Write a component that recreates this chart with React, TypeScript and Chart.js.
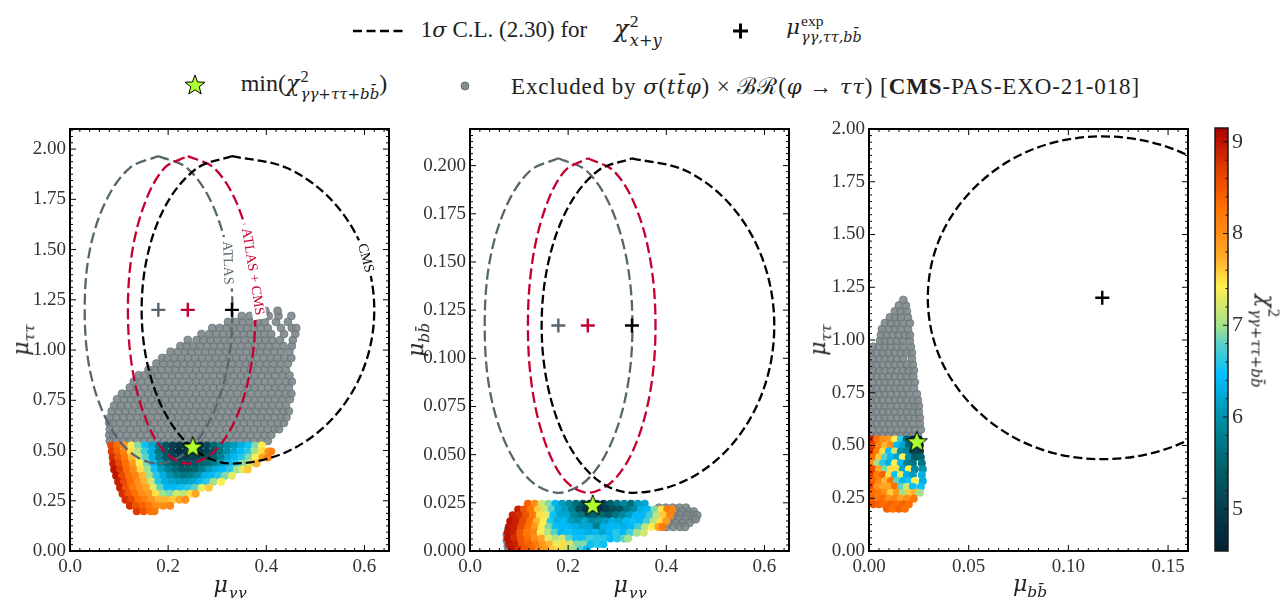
import React, { useEffect, useRef } from "react";
import { Chart, registerables } from "chart.js";
Chart.register(...registerables);

const FONT = '"Liberation Serif", serif';
const MATH = '"DejaVu Serif", serif';
const BLACK = "#000000";
const RED = "#c4002f";
const SLATE = "#55666c";
const LIME = "#adff2f";

// chi^2 colour scale
const chiStops = [4.54, 5.0, 5.5, 6.0, 6.45, 6.8, 7.0, 7.42, 7.75, 8.3, 8.7, 9.15];
const chiColors: number[][] = [
  [4, 30, 48], [8, 62, 78], [0, 100, 108], [0, 145, 170], [0, 190, 255], [90, 210, 200],
  [165, 225, 140], [255, 240, 80], [255, 170, 40], [255, 110, 0], [225, 60, 0], [170, 0, 0],
];
const cbTicks = [5, 6, 7, 8, 9];
const cbMinor = [4.6, 4.8, 5.2, 5.4, 5.6, 5.8, 6.2, 6.4, 6.6, 6.8, 7.2, 7.4, 7.6, 7.8, 8.2, 8.4, 8.6, 8.8, 9.0];

// best-fit crosses
const bestATLAS = [0.18, 1.2, 0.117];
const bestCOMB = [0.24, 1.2, 0.117];
const bestCMS = [0.33, 1.2, 0.117];
const bestP3 = [0.117, 1.2];
const starP1 = [0.25, 0.52];
const starP2 = [0.25, 0.024];
const starP3 = [0.024, 0.52];

// contours, flat x,y lists
const cmsP1 = [.33,1.965,.441,1.907,.535,1.741,.598,1.493,.62,1.2,.598,.907,.535,.659,.441,.493,.33,.435,.26,.493,.2,.659,.16,.907,.146,1.2,.16,1.493,.2,1.741,.26,1.907];
const combP1 = [.24,1.965,.293,1.907,.338,1.741,.368,1.493,.378,1.2,.368,.907,.338,.659,.293,.493,.24,.435,.193,.493,.154,.659,.127,.907,.118,1.2,.127,1.493,.154,1.741,.193,1.907];
const atlasP1 = [.18,1.965,.238,1.907,.287,1.741,.32,1.493,.331,1.2,.32,.907,.287,.659,.238,.493,.18,.435,.122,.493,.073,.659,.04,.907,.03,1.2,.04,1.493,.073,1.741,.122,1.907];
const cmsP2 = [.33,.2038,.441,.1972,.535,.1784,.598,.1502,.62,.117,.598,.0838,.535,.0556,.441,.0368,.33,.0302,.26,.0368,.2,.0556,.16,.0838,.146,.117,.16,.1502,.2,.1784,.26,.1972];
const combP2 = [.24,.2038,.293,.1972,.338,.1784,.368,.1502,.378,.117,.368,.0838,.338,.0556,.293,.0368,.24,.0302,.193,.0368,.154,.0556,.127,.0838,.118,.117,.127,.1502,.154,.1784,.193,.1972];
const atlasP2 = [.18,.2038,.238,.1972,.287,.1784,.32,.1502,.331,.117,.32,.0838,.287,.0556,.238,.0368,.18,.0302,.122,.0368,.073,.0556,.04,.0838,.03,.117,.04,.1502,.073,.1784,.122,.1972];
const cmsP3 = [.207,1.2,.2,1.493,.181,1.741,.152,1.907,.117,1.965,.083,1.907,.055,1.741,.036,1.493,.0295,1.2,.036,.907,.055,.659,.083,.493,.117,.435,.152,.493,.181,.659,.2,.907,.207,1.2];

// excluded points: [y, x, x, ...]
const gray1: number[][] = [
  [.548,.081,.094,.109,.122,.137,.151,.164,.179,.192,.207,.221,.234,.249,.262,.277,.291,.304,.319,.332,.347,.361,.374,.389,.403],
  [.577,.08,.088,.102,.116,.13,.144,.158,.172,.186,.2,.214,.228,.242,.256,.27,.284,.298,.312,.326,.34,.354,.368,.382,.396,.41],
  [.606,.081,.095,.109,.123,.137,.151,.165,.179,.193,.207,.221,.235,.249,.263,.277,.291,.305,.319,.333,.347,.361,.375,.389,.403,.417,.426],
  [.637,.08,.088,.102,.116,.13,.144,.158,.172,.186,.2,.214,.228,.242,.256,.27,.284,.298,.312,.326,.34,.354,.368,.382,.396,.41,.424,.436],
  [.665,.082,.095,.109,.123,.137,.151,.165,.179,.193,.207,.221,.235,.249,.263,.277,.291,.305,.319,.333,.347,.361,.375,.389,.403,.417,.431,.441],
  [.696,.085,.099,.113,.127,.141,.155,.169,.183,.197,.211,.225,.239,.253,.267,.281,.295,.309,.323,.337,.351,.365,.379,.393,.407,.421,.435,.446],
  [.724,.09,.104,.118,.132,.146,.16,.174,.188,.202,.216,.23,.244,.258,.272,.286,.3,.314,.328,.342,.356,.37,.384,.398,.412,.426,.44],
  [.755,.096,.11,.124,.138,.152,.166,.18,.194,.208,.222,.236,.25,.264,.278,.292,.306,.32,.334,.348,.362,.376,.39,.404,.418,.432,.448],
  [.783,.106,.118,.131,.145,.159,.173,.187,.201,.215,.229,.243,.257,.271,.285,.299,.313,.327,.341,.355,.369,.383,.397,.411,.425,.439,.451],
  [.814,.122,.137,.152,.166,.18,.194,.208,.222,.236,.25,.264,.278,.292,.306,.32,.334,.348,.362,.376,.39,.404,.418,.432,.446],
  [.843,.13,.145,.159,.173,.187,.201,.215,.229,.243,.257,.271,.285,.299,.313,.327,.341,.355,.369,.383,.397,.411,.425,.441,.452],
  [.874,.14,.152,.166,.18,.194,.208,.222,.236,.25,.264,.278,.292,.306,.32,.334,.348,.362,.376,.39,.404,.418,.432,.447],
  [.902,.16,.173,.187,.201,.215,.229,.243,.257,.271,.285,.299,.313,.327,.341,.355,.369,.383,.397,.411,.425,.44],
  [.933,.176,.19,.204,.218,.232,.246,.26,.274,.288,.302,.316,.33,.344,.358,.372,.386,.4,.414,.428,.444],
  [.961,.188,.199,.213,.227,.241,.255,.269,.283,.297,.311,.325,.339,.353,.367,.381,.395,.409,.423,.437,.451],
  [.992,.205,.22,.234,.248,.262,.276,.29,.304,.318,.332,.346,.36,.374,.388,.402,.416,.43,.447],
  [1.02,.225,.237,.251,.265,.279,.293,.307,.321,.335,.349,.363,.377,.391,.405,.419,.435,.452],
  [1.05,.24,.258,.272,.286,.3,.314,.328,.342,.356,.37,.384,.398,.412,.428,.454],
  [1.08,.268,.284,.298,.312,.326,.34,.354,.368,.382,.396,.41,.436,.459],
  [1.11,.29,.305,.319,.333,.347,.361,.375,.389,.403,.43,.452,.461],
  [1.14,.322,.338,.352,.366,.382,.397,.42,.444],
  [1.17,.35,.366,.383,.405,.425,.451],
  [1.195,.398,.423],
];
const gray2: number[][] = [
  [.0225,.385,.399,.413,.427,.44],
  [.0205,.39,.404,.418,.432,.446,.456],
  [.0185,.4,.414,.428,.442,.456,.463],
  [.0165,.398,.412,.426,.44,.454,.46],
  [.0145,.405,.419,.433,.447],
  [.0125,.4,.414,.428,.438],
  [.011,.078,.082,.088],
  [.0085,.075,.08,.087],
  [.0055,.075,.082,.088],
  [.0025,.077,.083,.089],
  [.0005,.079,.085,.091],
];
const gray3: number[][] = [
  [.548,.001,.004,.007,.01,.013,.016,.019,.022,.0245],
  [.576,.002,.005,.008,.011,.014,.017,.02,.023,.026],
  [.604,.001,.004,.007,.01,.013,.016,.019,.022,.0255],
  [.632,.002,.005,.008,.011,.014,.017,.02,.023,.0255],
  [.66,.001,.004,.007,.01,.013,.016,.019,.022,.025],
  [.688,.002,.005,.008,.011,.014,.017,.02,.023,.025],
  [.716,.001,.004,.007,.01,.013,.016,.019,.022,.0245],
  [.744,.002,.005,.008,.011,.014,.017,.02,.024],
  [.772,.001,.004,.007,.01,.013,.016,.019,.0225],
  [.8,.002,.005,.008,.011,.014,.017,.02,.023],
  [.828,.001,.004,.007,.01,.013,.016,.019,.0222],
  [.856,.002,.005,.008,.011,.014,.017,.02,.0225],
  [.884,.001,.004,.007,.01,.013,.016,.019,.022],
  [.912,.002,.005,.008,.011,.014,.017,.0215],
  [.94,.001,.004,.007,.01,.013,.016,.019,.0215],
  [.968,.002,.005,.008,.011,.014,.017,.021],
  [.996,.0055,.008,.011,.014,.017,.0205],
  [1.024,.006,.009,.012,.015,.018,.0205],
  [1.052,.0065,.01,.013,.016,.0195],
  [1.08,.008,.011,.014,.017,.0205],
  [1.108,.0105,.013,.016,.0195],
  [1.136,.013,.016,.019],
  [1.164,.015,.0185],
  [1.19,.0172],
];

// allowed points: [y, x, chi, x, chi, ...]
const color1: number[][] = [
  [.525,.084,8.6,.097,8.3,.111,7.9,.125,7.4,.139,6.9,.153,6.5,.167,6.2,.181,5.8,.195,5.3,.209,5.0,.223,4.9,.237,4.8,.251,4.7,.265,4.9,.279,5.2,.293,5.5,.307,5.8,.321,6.0,.335,6.1,.349,6.3,.363,6.5,.377,6.9,.391,7.4],
  [.495,.085,8.7,.096,8.4,.11,8.1,.124,7.5,.138,7.1,.152,6.7,.166,6.3,.18,5.7,.194,5.3,.208,5.0,.222,4.8,.236,4.9,.25,4.8,.264,4.9,.278,5.1,.292,5.3,.306,5.7,.32,6.0,.334,6.2,.348,6.4,.362,6.6,.376,7.0,.39,7.5,.404,7.9,.41,8.1],
  [.465,.087,8.8,.098,8.5,.112,8.2,.126,7.7,.14,7.2,.154,6.8,.168,6.3,.182,5.8,.196,5.4,.21,5.1,.224,5.0,.238,5.0,.252,5.0,.266,5.2,.28,5.3,.294,5.5,.308,5.8,.322,6.2,.336,6.4,.35,6.6,.364,6.9,.378,7.4,.392,7.8,.403,8.1],
  [.435,.088,8.9,.1,8.6,.114,8.3,.128,7.9,.142,7.4,.156,6.9,.17,6.4,.184,5.9,.198,5.6,.212,5.4,.226,5.2,.24,5.2,.254,5.3,.268,5.5,.282,5.6,.296,5.8,.31,6.1,.324,6.4,.338,6.6,.352,6.9,.366,7.2,.38,7.7],
  [.405,.09,9.0,.102,8.7,.116,8.3,.13,8.0,.144,7.5,.158,7.0,.172,6.5,.186,6.1,.2,5.8,.214,5.6,.228,5.4,.242,5.4,.256,5.5,.27,5.8,.284,6.1,.298,6.3,.312,6.4,.326,6.6,.34,7.0,.352,7.3,.362,7.6],
  [.375,.094,9.0,.106,8.6,.12,8.3,.134,8.1,.148,7.7,.162,7.0,.176,6.6,.19,6.3,.204,6.0,.218,5.8,.232,5.7,.246,5.8,.26,6.0,.274,6.3,.288,6.4,.302,6.6,.316,6.9,.33,7.3],
  [.345,.098,8.9,.11,8.6,.124,8.3,.138,8.0,.152,7.7,.166,7.2,.18,6.6,.194,6.3,.208,6.2,.222,6.1,.236,6.1,.25,6.2,.264,6.4,.278,6.6,.292,7.0,.308,7.4],
  [.315,.102,8.9,.114,8.5,.128,8.2,.142,8.0,.156,7.8,.17,7.3,.184,6.8,.198,6.4,.212,6.4,.226,6.5,.24,6.6,.254,6.8,.268,7.3,.283,7.6],
  [.285,.107,8.8,.119,8.5,.133,8.3,.147,8.0,.161,7.9,.175,7.5,.189,7.0,.203,6.9,.217,7.2,.231,7.1,.245,7.5,.256,7.8],
  [.255,.113,8.8,.125,8.6,.139,8.3,.153,8.1,.167,7.9,.181,7.7,.195,7.7,.209,7.6,.223,7.8,.235,8.0],
  [.225,.122,8.8,.134,8.5,.148,8.4,.162,8.2,.176,8.0,.19,8.0,.204,8.1],
  [.198,.136,8.7,.15,8.5,.164,8.3,.172,8.2],
];
const color2: number[][] = [
  [.0245,.118,8.4,.132,8.0,.146,7.2,.16,6.9,.174,6.4,.188,6.1,.202,5.9,.216,5.6,.23,5.3,.244,5.1,.258,5.0,.272,5.1,.286,5.4,.3,5.7,.314,5.9,.328,5.6,.342,6.1,.356,6.2],
  [.0215,.098,8.9,.11,8.5,.124,8.2,.138,7.6,.152,7.2,.166,6.8,.18,6.3,.194,6.1,.208,5.8,.222,5.2,.236,4.9,.25,4.8,.264,4.8,.278,5.0,.292,5.2,.306,5.3,.32,5.7,.334,5.9,.348,6.3,.362,6.4,.376,6.9,.39,7.5,.402,8.2,.412,8.1],
  [.0185,.087,8.9,.1,8.8,.114,8.5,.128,8.2,.142,7.5,.156,7.3,.17,6.5,.184,6.2,.198,6.2,.212,5.9,.226,5.7,.24,5.5,.254,5.5,.268,5.6,.282,5.4,.296,5.7,.31,5.9,.324,6.1,.338,6.4,.352,6.4,.366,6.7,.38,7.1,.394,7.6,.408,8.1],
  [.0155,.082,9.0,.094,8.9,.108,8.6,.122,8.3,.136,7.7,.15,7.4,.164,6.6,.178,6.3,.192,6.4,.206,6.1,.22,6.0,.234,6.2,.248,5.9,.262,6.0,.276,6.1,.29,6.3,.304,6.2,.318,6.4,.332,6.5,.346,6.4,.36,6.7,.374,7.1,.388,7.5,.4,7.9],
  [.0125,.079,9.0,.09,8.9,.104,8.6,.118,8.3,.132,7.9,.146,7.4,.16,6.9,.174,6.5,.188,6.4,.202,6.4,.216,6.3,.23,6.2,.244,6.2,.258,5.8,.272,6.3,.286,6.4,.3,6.4,.314,6.3,.328,6.4,.342,6.7,.356,7.1,.37,7.4,.384,7.8,.392,8.2],
  [.0095,.077,9.0,.088,8.9,.102,8.5,.116,8.2,.13,8.1,.144,7.4,.158,7.1,.172,6.8,.186,6.4,.2,6.5,.214,6.4,.228,6.4,.242,6.3,.256,6.4,.27,6.2,.284,6.4,.298,6.6,.312,6.4,.326,6.7,.34,7.0,.354,7.2],
  [.0065,.077,9.0,.09,8.8,.104,8.5,.118,8.3,.132,8.0,.146,7.8,.16,7.3,.174,7.1,.188,7.2,.202,6.8,.216,6.5,.23,6.5,.244,6.7,.258,6.6,.272,6.6,.286,6.4,.3,6.6,.314,6.8,.322,7.0],
  [.0035,.08,9.0,.092,8.9,.106,8.5,.12,8.4,.134,8.2,.148,7.9,.162,7.7,.176,7.3,.19,7.5,.204,7.2,.218,6.9,.232,6.9,.246,6.5,.26,6.6,.272,6.5],
  [.0008,.086,9.0,.098,8.8,.112,8.5,.126,8.4,.14,8.1,.154,7.9,.168,7.6,.182,7.5,.196,7.2,.21,7.0,.224,6.8,.238,6.4],
];
const color3: number[][] = [
  [.528,.001,8.9,.004,8.3,.007,8.0,.01,7.9,.013,7.4,.016,6.6,.019,5.5,.022,4.8,.025,4.7],
  [.5,.002,8.6,.005,8.1,.008,7.7,.011,8.0,.014,6.4,.017,6.2,.02,5.5,.023,4.9,.0255,4.8],
  [.472,.001,8.8,.004,8.2,.007,7.5,.01,6.5,.013,7.2,.016,6.0,.019,5.9,.022,5.1,.0255,5.0],
  [.444,.002,8.3,.005,7.6,.008,6.8,.011,6.4,.014,6.2,.017,7.4,.02,6.0,.023,5.4,.026,5.5],
  [.416,.001,8.0,.004,7.0,.007,6.6,.01,6.3,.013,7.4,.016,6.4,.019,5.8,.022,5.7,.0265,5.7],
  [.388,.002,8.6,.005,7.8,.008,6.9,.011,7.5,.014,7.5,.017,6.2,.02,7.4,.023,5.9,.027,6.0],
  [.36,.001,8.7,.004,8.2,.007,8.4,.01,7.5,.013,6.5,.016,7.3,.019,6.3,.022,6.1,.0265,6.3],
  [.332,.002,8.4,.005,8.1,.008,7.7,.011,8.3,.014,6.8,.017,6.4,.02,6.5,.023,7.4,.027,6.3],
  [.304,.001,8.6,.004,8.0,.007,7.8,.01,7.8,.013,8.3,.016,6.8,.019,7.2,.022,6.5,.026,6.5],
  [.276,.002,8.3,.005,8.2,.008,8.0,.011,7.6,.014,7.9,.017,7.0,.02,7.6,.023,7.7,.0255,7.0],
  [.248,.001,8.4,.004,8.2,.007,8.3,.01,8.0,.013,8.1,.016,7.8,.019,8.0,.0225,8.2],
  [.222,.002,8.5,.005,8.4,.008,8.3,.011,8.4,.014,8.3,.017,8.4,.02,8.3],
  [.2,.009,8.4,.012,8.3,.015,8.4,.018,8.3],
];

// axis ticks
const xTicksP1 = [0, .2, .4, .6];
const yTicksP1 = [0, .25, .5, .75, 1, 1.25, 1.5, 1.75, 2];
const yTicksP2 = [0, .025, .05, .075, .1, .125, .15, .175, .2];
const xTicksP3 = [0, .05, .1, .15];

const flatPts = (f: number[]) => {
  const o: { x: number; y: number }[] = [];
  for (let i = 0; i < f.length; i += 2) o.push({ x: f[i], y: f[i + 1] });
  return o;
};
const closed = (f: number[]) => { const p = flatPts(f); return [...p, p[0]]; };
const grayPts = (rows: number[][]) => rows.flatMap((r) => r.slice(1).map((x) => ({ x, y: r[0] })));
const colorPts = (rows: number[][]) =>
  rows.flatMap((r) => {
    const o: { x: number; y: number; c: number }[] = [];
    for (let i = 1; i < r.length; i += 2) o.push({ x: r[i], y: r[0], c: r[i + 1] });
    return o;
  });
const chiColor = (c: number) => {
  let i = 0;
  while (i < chiStops.length - 2 && c > chiStops[i + 1]) i++;
  const t = Math.min(1, Math.max(0, (c - chiStops[i]) / (chiStops[i + 1] - chiStops[i])));
  const m = chiColors[i].map((v, k) => Math.round(v + (chiColors[i + 1][k] - v) * t));
  return `rgb(${m[0]},${m[1]},${m[2]})`;
};

function starImage() {
  const s = 26;
  const cv = document.createElement("canvas");
  cv.width = s; cv.height = s;
  const g = cv.getContext("2d")!;
  g.beginPath();
  for (let i = 0; i < 10; i++) {
    const r = i % 2 ? 4.6 : 11;
    const a = -Math.PI / 2 + (i * Math.PI) / 5;
    g.lineTo(s / 2 + r * Math.cos(a), s / 2 + 1 + r * Math.sin(a));
  }
  g.closePath();
  g.fillStyle = LIME; g.fill();
  g.lineWidth = 1; g.strokeStyle = "#000"; g.stroke();
  return cv;
}

const framePlugin = {
  id: "frame",
  afterDraw(chart: any, _a: any, o: any) {
    const { ctx, chartArea: c, scales } = chart;
    const mark = (ax: any, v: number, len: number) => {
      const p = ax.getPixelForValue(v);
      if (ax.axis === "x") {
        if (p < c.left || p > c.right) return;
        ctx.moveTo(p, c.bottom); ctx.lineTo(p, c.bottom - len);
        ctx.moveTo(p, c.top); ctx.lineTo(p, c.top + len);
      } else {
        if (p < c.top - .5 || p > c.bottom) return;
        ctx.moveTo(c.left, p); ctx.lineTo(c.left + len, p);
        ctx.moveTo(c.right, p); ctx.lineTo(c.right - len, p);
      }
    };
    ctx.save();
    ctx.strokeStyle = "#000"; ctx.lineWidth = 1;
    ctx.beginPath();
    for (const [ax, div] of [[scales.x, o.xDiv], [scales.y, o.yDiv]] as any[]) {
      const ts = ax.ticks.map((t: any) => t.value);
      const step = ts[1] - ts[0];
      ts.forEach((v: number) => {
        mark(ax, v, 6);
        for (let k = 1; k < div; k++) mark(ax, v + (step * k) / div, 3);
      });
    }
    ctx.stroke();
    ctx.lineWidth = 2;
    ctx.strokeRect(c.left, c.top, c.right - c.left, c.bottom - c.top);
    (o.notes || []).forEach((n: any) => {
      ctx.save();
      ctx.translate(scales.x.getPixelForValue(n.x), scales.y.getPixelForValue(n.y));
      ctx.rotate((n.rot * Math.PI) / 180);
      ctx.font = `14px ${FONT}`;
      const w = ctx.measureText(n.text).width;
      ctx.fillStyle = "#fff";
      ctx.fillRect(-w / 2 - 4, -7, w + 8, 14);
      ctx.fillStyle = n.color;
      ctx.textAlign = "center"; ctx.textBaseline = "middle";
      ctx.fillText(n.text, 0, 0);
      ctx.restore();
    });
    ctx.restore();
  },
};

const noPad = (a: any) => { a.paddingTop = 0; a.paddingBottom = 0; a.paddingLeft = 0; a.paddingRight = 0; };

const PW = 320, PH = 423;
function panelConfig(p: any) {
  const contour = (data: any, color: string, dash: number[]) => ({
    data, showLine: true, tension: 0.34, pointRadius: 0, borderColor: color, borderWidth: 2.3, borderDash: dash, fill: false,
  });
  const cross = (x: number, y: number, color: string) => ({
    data: [{ x, y }], pointStyle: "cross", pointRadius: 7, pointBorderWidth: 2.4, borderWidth: 2.4, pointBorderColor: color, borderColor: color, showLine: false,
  });
  const tickFont = { family: FONT, size: 19 };
  return {
    type: "scatter",
    data: {
      datasets: [
        { data: [p.star], pointStyle: starImage(), pointRadius: 10, showLine: false },
        ...p.crosses.map((c: any) => cross(c[0], c[1], c[2])),
        ...p.lines.map((l: any) => contour(l[0], l[1], l[2])),
        {
          data: p.colored, showLine: false, pointRadius: 4, pointBorderWidth: 0,
          pointBackgroundColor: (ctx: any) => chiColor(ctx.raw ? ctx.raw.c : 7),
        },
        {
          data: p.gray, showLine: false, pointRadius: 4, pointBorderWidth: 0.8,
          pointBackgroundColor: "rgba(128,135,138,0.9)", pointBorderColor: "rgba(92,108,116,0.75)",
        },
      ],
    },
    options: {
      animation: false, responsive: false, maintainAspectRatio: false,
      layout: { padding: { top: 10, right: 10, left: 0, bottom: 0 } },
      events: [],
      plugins: {
        legend: { display: false }, tooltip: { enabled: false },
        frame: { xDiv: p.xDiv, yDiv: 8, notes: p.notes },
      },
      scales: {
        x: {
          type: "linear", min: 0, max: p.xMax, grid: { display: false, drawTicks: false }, border: { display: false },
          afterBuildTicks: (a: any) => { a.ticks = p.xTicks.map((value: number) => ({ value })); },
          afterFit: (a: any) => { a.height = 40; noPad(a); },
          ticks: { font: tickFont, color: "#333", padding: 5, maxRotation: 0, autoSkip: false, callback: (v: number) => v.toFixed(p.xDec) },
        },
        y: {
          type: "linear", min: 0, max: p.yMax, grid: { display: false, drawTicks: false }, border: { display: false },
          afterBuildTicks: (a: any) => { a.ticks = p.yTicks.map((value: number) => ({ value })); },
          afterFit: (a: any) => { a.width = 70; noPad(a); },
          ticks: { font: tickFont, color: "#333", padding: 4, autoSkip: false, callback: (v: number) => v.toFixed(p.yDec) },
        },
      },
    },
    plugins: [framePlugin],
  };
}

function colorbarConfig() {
  return {
    type: "bar",
    data: {
      labels: [""],
      datasets: [{
        data: [[chiStops[0], chiStops[chiStops.length - 1]]],
        barPercentage: 1, categoryPercentage: 1,
        backgroundColor: (ctx: any) => {
          const { chart } = ctx;
          const a = chart.chartArea;
          if (!a) return "#000";
          const g = chart.ctx.createLinearGradient(0, a.bottom, 0, a.top);
          const lo = chiStops[0], hi = chiStops[chiStops.length - 1];
          chiStops.forEach((s, i) => g.addColorStop((s - lo) / (hi - lo), `rgb(${chiColors[i].join(",")})`));
          return g;
        },
      }],
    },
    options: {
      animation: false, responsive: false, maintainAspectRatio: false, events: [],
      layout: { padding: { top: 10, left: 5, right: 0, bottom: 37 } },
      plugins: { legend: { display: false }, tooltip: { enabled: false } },
      scales: {
        x: { display: false, grid: { display: false } },
        y: {
          position: "right", type: "linear", min: chiStops[0], max: chiStops[chiStops.length - 1],
          grid: { display: false, drawTicks: false }, border: { display: false },
          afterBuildTicks: (a: any) => { a.ticks = cbTicks.map((value) => ({ value })); },
          afterFit: (a: any) => { a.width = 30; noPad(a); },
          ticks: { font: { family: FONT, size: 22 }, color: "#333", padding: 4, callback: (v: number) => String(v) },
        },
      },
    },
    plugins: [{
      id: "cbframe",
      afterDraw(chart: any) {
        const { ctx, chartArea: c, scales } = chart;
        ctx.save();
        ctx.strokeStyle = "#111"; ctx.lineWidth = 1;
        ctx.beginPath();
        cbTicks.forEach((v) => { const p = scales.y.getPixelForValue(v); ctx.moveTo(c.right, p); ctx.lineTo(c.right - 5, p); });
        cbMinor.forEach((v) => { const p = scales.y.getPixelForValue(v); ctx.moveTo(c.right, p); ctx.lineTo(c.right - 2.5, p); });
        ctx.stroke();
        ctx.lineWidth = 1.5; ctx.strokeStyle = "#1a1a1a";
        ctx.strokeRect(c.left, c.top, c.right - c.left, c.bottom - c.top);
        ctx.restore();
      },
    }],
  };
}

const I = ({ children }: any) => <i style={{ fontFamily: MATH, fontSize: "0.92em" }}>{children}</i>;
const Stack = ({ sup, sub }: any) => (
  <span style={{ display: "inline-flex", flexDirection: "column", verticalAlign: "middle", fontSize: "0.68em", lineHeight: 1.05, textAlign: "left", marginLeft: 1 }}>
    <span>{sup}</span><span>{sub}</span>
  </span>
);
const Txt = ({ x, y, size, rot = 0, spacing = 0, children }: any) => (
  <div style={{ position: "absolute", left: x, top: y, transform: `translate(-50%,-50%) rotate(${rot}deg)`, fontFamily: FONT, fontSize: size, lineHeight: 1, letterSpacing: spacing, whiteSpace: "nowrap", color: "#222" }}>
    {children}
  </div>
);
const Low = ({ children }: any) => <sub style={{ fontSize: "0.7em" }}><I>{children}</I></sub>;
const MuTT = () => <span><I>μ</I><Low>ττ</Low></span>;
const MuGG = () => <span><I>μ</I><Low>γγ</Low></span>;
const MuBB = () => <span><I>μ</I><Low>bb̄</Low></span>;
const SUB = <I>γγ+ττ+bb̄</I>;

export default function App() {
  const r1 = useRef<HTMLCanvasElement>(null);
  const r2 = useRef<HTMLCanvasElement>(null);
  const r3 = useRef<HTMLCanvasElement>(null);
  const rc = useRef<HTMLCanvasElement>(null);
  useEffect(() => {
    const dashA = [11, 4.5];
    const dashB = [9, 4];
    const charts = [
      new Chart(r1.current!, panelConfig({
        star: { x: starP1[0], y: starP1[1] }, xMax: .65, yMax: 2.1, xTicks: xTicksP1, yTicks: yTicksP1, xDec: 1, yDec: 2, xDiv: 10,
        crosses: [[bestCMS[0], bestCMS[1], BLACK], [bestCOMB[0], bestCOMB[1], RED], [bestATLAS[0], bestATLAS[1], SLATE]],
        lines: [[closed(cmsP1), BLACK, dashB], [closed(combP1), RED, dashA], [closed(atlasP1), SLATE, dashA]],
        colored: colorPts(color1), gray: grayPts(gray1),
        notes: [
          { text: "ATLAS", x: .321, y: 1.434, rot: 88, color: SLATE },
          { text: "ATLAS + CMS", x: .372, y: 1.39, rot: 81, color: RED },
          { text: "CMS", x: .602, y: 1.458, rot: 75, color: BLACK },
        ],
      }) as any),
      new Chart(r2.current!, panelConfig({
        star: { x: starP2[0], y: starP2[1] }, xMax: .65, yMax: .219, xTicks: xTicksP1, yTicks: yTicksP2, xDec: 1, yDec: 3, xDiv: 10,
        crosses: [[bestCMS[0], bestCMS[2], BLACK], [bestCOMB[0], bestCOMB[2], RED], [bestATLAS[0], bestATLAS[2], SLATE]],
        lines: [[closed(cmsP2), BLACK, dashB], [closed(combP2), RED, dashA], [closed(atlasP2), SLATE, dashA]],
        colored: colorPts(color2), gray: grayPts(gray2), notes: [],
      }) as any),
      new Chart(r3.current!, panelConfig({
        star: { x: starP3[0], y: starP3[1] }, xMax: .16, yMax: 2, xTicks: xTicksP3, yTicks: yTicksP1, xDec: 2, yDec: 2, xDiv: 10,
        crosses: [[bestP3[0], bestP3[1], BLACK]],
        lines: [[flatPts(cmsP3), BLACK, dashB]],
        colored: colorPts(color3), gray: grayPts(gray3), notes: [],
      }) as any),
      new Chart(rc.current!, colorbarConfig() as any),
    ];
    return () => charts.forEach((c) => c.destroy());
  }, []);
  const cv = (left: number, ref: any) => (
    <canvas ref={ref} width={70 + PW + 10} height={10 + PH + 40} style={{ position: "absolute", left, top: 118, width: 70 + PW + 10, height: 10 + PH + 40 }} />
  );
  return (
    <div style={{ position: "fixed", left: 0, top: 0, width: 1287, height: 598, overflow: "hidden", background: "#fff" }}>
      {cv(0, r1)}
      {cv(400, r2)}
      {cv(799, r3)}
      <canvas ref={rc} width={48} height={10 + PH + 37} style={{ position: "absolute", left: 1210, top: 118, width: 48, height: 470 }} />

      {/* legend */}
      <svg width={1287} height={110} style={{ position: "absolute", left: 0, top: 0 }}>
        <line x1={353} x2={405} y1={31} y2={31} stroke="#000" strokeWidth={2.5} strokeDasharray="9 4.5" />
        <path d="M733 31H748M740.5 23.5V38.5" stroke="#000" strokeWidth={3} />
        <polygon points="195,75 197.6,82 205,82.2 199.2,86.8 201.2,94 195,89.8 188.8,94 190.8,86.8 185,82.2 192.4,82" fill={LIME} stroke="#000" strokeWidth={1} />
        <circle cx={465} cy={86} r={4} fill="#858c8e" stroke="#66767d" />
      </svg>
      <Txt x={504} y={29} size={23}>1<I>σ</I> C.L. (2.30) for</Txt>
      <Txt x={638} y={31} size={26}><I>χ</I><Stack sup="2" sub={<I>x+y</I>} /></Txt>
      <Txt x={824} y={29} size={23}><I>μ</I><Stack sup="exp" sub={<I>γγ,ττ,bb̄</I>} /></Txt>
      <Txt x={314} y={85} size={24}>min(<I>χ</I><Stack sup="2" sub={SUB} />)</Txt>
      <Txt x={825.5} y={86} size={23} spacing={0.9}>Excluded by <I>σ</I>(<I>tt̄φ</I>) × ℬℛ(<I>φ</I> → <I>ττ</I>) [<b>CMS</b>-PAS-EXO-21-018]</Txt>

      {/* axis titles */}
      <Txt x={230} y={587} size={24}><MuGG /></Txt>
      <Txt x={630} y={587} size={24}><MuGG /></Txt>
      <Txt x={1030} y={586} size={24}><MuBB /></Txt>
      <Txt x={23} y={340} size={24} rot={-90}><MuTT /></Txt>
      <Txt x={418} y={340} size={24} rot={-90}><MuBB /></Txt>
      <Txt x={820} y={340} size={24} rot={-90}><MuTT /></Txt>
      <Txt x={1265} y={341} size={24} rot={90}><I>χ</I><Stack sup="2" sub={SUB} /></Txt>
    </div>
  );
}
